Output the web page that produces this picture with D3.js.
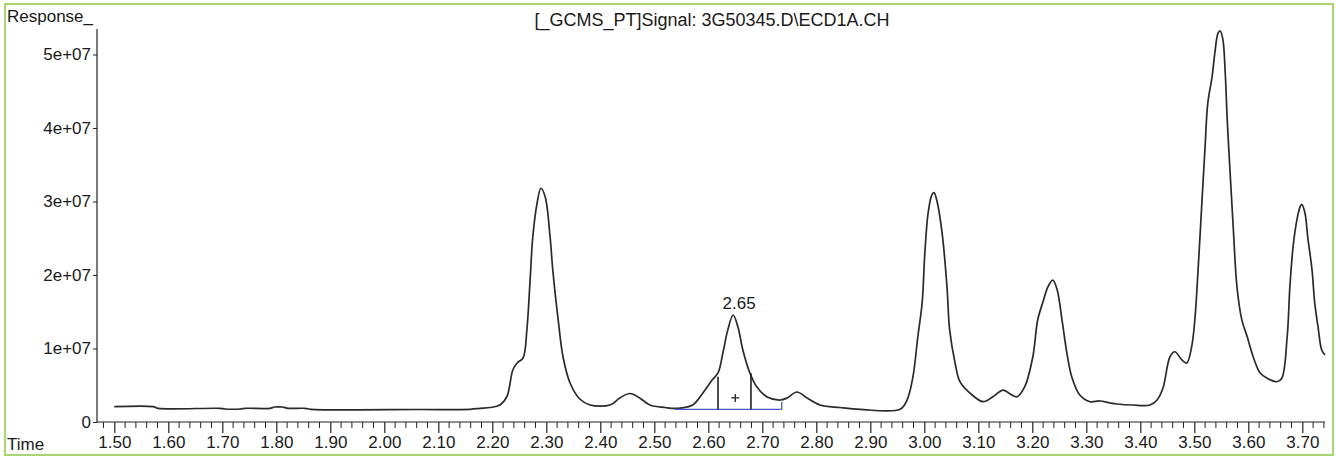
<!DOCTYPE html>
<html>
<head>
<meta charset="utf-8">
<script src="https://cdn.jsdelivr.net/npm/d3@7"></script>
<style>
  html, body { margin: 0; padding: 0; background: #fff; }
  svg { display: block; }
  text { font-family: "Liberation Sans", Arial, sans-serif; fill: #1a1a1a; }
</style>
</head>
<body>
<svg id="chart" width="1336" height="457"></svg>
<script>
// ECD1A signal trace: retention time (min) and detector response
const times = [
  1.500, 1.572, 1.581, 1.696, 1.705, 1.733, 1.742, 1.788, 1.797, 1.811, 1.822, 1.853, 1.864,
  2.066, 2.159, 2.177, 2.196, 2.214, 2.227, 2.238, 2.246, 2.257, 2.264, 2.270, 2.275, 2.283,
  2.290, 2.298, 2.307, 2.312, 2.322, 2.331, 2.344, 2.362, 2.381, 2.418, 2.436, 2.455, 2.473,
  2.492, 2.520, 2.542, 2.571, 2.590, 2.607, 2.618, 2.627, 2.636, 2.646, 2.655, 2.664, 2.677,
  2.690, 2.709, 2.733, 2.746, 2.764, 2.783, 2.807, 2.844, 2.881, 2.955, 2.968, 2.979, 2.988,
  2.996, 3.001, 3.007, 3.014, 3.018, 3.023, 3.033, 3.042, 3.047, 3.057, 3.066, 3.085, 3.109,
  3.127, 3.146, 3.162, 3.172, 3.186, 3.201, 3.210, 3.220, 3.229, 3.238, 3.246, 3.255, 3.264,
  3.273, 3.288, 3.307, 3.325, 3.344, 3.357, 3.386, 3.418, 3.431, 3.442, 3.455, 3.464, 3.477,
  3.486, 3.495, 3.501, 3.507, 3.514, 3.520, 3.525, 3.533, 3.538, 3.544, 3.548, 3.553, 3.557,
  3.561, 3.566, 3.572, 3.579, 3.588, 3.598, 3.609, 3.622, 3.635, 3.653, 3.662, 3.672, 3.677,
  3.683, 3.690, 3.696, 3.699, 3.705, 3.710, 3.718, 3.723, 3.729, 3.736, 3.742
];
const response = [
  2.08e6, 2.08e6, 1.86e6, 1.86e6, 1.77e6, 1.77e6, 1.86e6, 1.86e6, 2.04e6, 2.04e6, 1.86e6, 1.86e6, 1.73e6,
  1.70e6, 1.73e6, 1.86e6, 1.97e6, 2.31e6, 3.44e6, 7.07e6, 8.03e6, 8.71e6, 12.5e6, 19.3e6, 25.2e6, 29.8e6,
  31.8e6, 30.6e6, 25.2e6, 20.7e6, 13.9e6, 8.84e6, 5.31e6, 3.13e6, 2.31e6, 2.31e6, 3.27e6, 3.88e6, 3.27e6,
  2.31e6, 1.97e6, 1.86e6, 2.31e6, 3.95e6, 5.71e6, 6.67e6, 9.39e6, 12.5e6, 14.56e6, 12.9e6, 9.80e6, 6.67e6,
  4.76e6, 3.40e6, 2.99e6, 3.27e6, 4.08e6, 3.27e6, 2.31e6, 1.97e6, 1.73e6, 1.73e6, 2.99e6, 6.16e6, 11.6e6,
  16.2e6, 23.0e6, 28.4e6, 30.9e6, 31.2e6, 30.2e6, 25.7e6, 18.4e6, 12.5e6, 8.03e6, 5.49e6, 3.90e6, 2.76e6,
  3.44e6, 4.35e6, 3.67e6, 3.44e6, 4.80e6, 8.88e6, 13.9e6, 16.4e6, 18.4e6, 19.3e6, 18.0e6, 13.9e6, 9.39e6,
  6.16e6, 3.67e6, 2.76e6, 2.86e6, 2.59e6, 2.45e6, 2.31e6, 2.31e6, 2.99e6, 4.63e6, 8.88e6, 9.56e6, 8.44e6,
  8.03e6, 10.2e6, 13.9e6, 20.7e6, 29.8e6, 37.5e6, 43.4e6, 47.0e6, 50.2e6, 52.9e6, 53.2e6, 52.0e6, 47.9e6,
  41.1e6, 34.3e6, 26.6e6, 18.4e6, 13.9e6, 11.6e6, 8.88e6, 6.67e6, 5.95e6, 5.48e6, 5.95e6, 11.6e6, 18.4e6,
  23.9e6, 27.5e6, 29.3e6, 29.6e6, 28.4e6, 25.2e6, 20.7e6, 16.2e6, 13.0e6, 9.80e6, 9.12e6
];

// Axis ticks and labels
const xTickValues = [1.5, 1.6, 1.7, 1.8, 1.9, 2.0, 2.1, 2.2, 2.3, 2.4, 2.5, 2.6, 2.7, 2.8, 2.9, 3.0, 3.1, 3.2, 3.3, 3.4, 3.5, 3.6, 3.7];
const xTickLabels = ["1.50","1.60","1.70","1.80","1.90","2.00","2.10","2.20","2.30","2.40","2.50","2.60","2.70","2.80","2.90","3.00","3.10","3.20","3.30","3.40","3.50","3.60","3.70"];
const yTickValues = [0, 1e7, 2e7, 3e7, 4e7, 5e7];
const yTickLabels = ["0", "1e+07", "2e+07", "3e+07", "4e+07", "5e+07"];

// Integrated peak at 2.65: baseline, split markers and centre mark
const peakLabel = "2.65";
const peakTime = 2.646;
const peakValue = 14.56e6;
const integBaseTimes = [2.538, 2.736];
const integBaseValues = [1.73e6, 1.73e6];
const integEndTop = 2.76e6;
const splitTimes = [2.618, 2.679];
const splitTops = [6.16e6, 6.63e6];
const centreMark = [2.650, 3.27e6];

const title = "[_GCMS_PT]Signal: 3G50345.D\\ECD1A.CH";

const svg = d3.select("#chart");

// Outer frame
svg.append("rect")
  .attr("x", 5).attr("y", 4).attr("width", 1328).attr("height", 451)
  .attr("fill", "none").attr("stroke", "#a9d672").attr("stroke-width", 2);

const x = d3.scaleLinear().domain([1.5, 3.7]).range([114.3, 1302.3]);
const y = d3.scaleLinear().domain([0, 5e7]).range([422, 54.5]);

const axisColor = "#222";

// Y axis
const yAxisX = 97;
svg.append("line")
  .attr("x1", yAxisX).attr("x2", yAxisX)
  .attr("y1", 29).attr("y2", y(0))
  .attr("stroke", axisColor).attr("stroke-width", 1.2);

const yAxis = d3.axisLeft(y)
  .tickValues(yTickValues)
  .tickFormat((d, i) => yTickLabels[i])
  .tickSize(4)
  .tickPadding(2);
const gy = svg.append("g").attr("transform", `translate(${yAxisX},0)`).call(yAxis);
gy.select(".domain").remove();
gy.selectAll("line").attr("stroke", axisColor);
gy.selectAll("text")
  .style("font-family", '"Liberation Sans", Arial, sans-serif')
  .style("font-size", "17px")
  .attr("fill", "#1a1a1a");

// X axis
const xAxisY = y(0);
svg.append("line")
  .attr("x1", yAxisX).attr("x2", 1325)
  .attr("y1", xAxisY).attr("y2", xAxisY)
  .attr("stroke", axisColor).attr("stroke-width", 1.2);

const minorTicks = d3.range(1.48, 3.745, 0.02).filter(t => Math.abs(Math.round(t * 10) - t * 10) > 1e-6);
svg.append("g").selectAll("line").data(minorTicks).join("line")
  .attr("x1", d => x(d)).attr("x2", d => x(d))
  .attr("y1", xAxisY).attr("y2", xAxisY + 6)
  .attr("stroke", axisColor).attr("stroke-width", 1);

const xAxis = d3.axisBottom(x)
  .tickValues(xTickValues)
  .tickFormat((d, i) => xTickLabels[i])
  .tickSize(11)
  .tickPadding(3);
const gx = svg.append("g").attr("transform", `translate(0,${xAxisY})`).call(xAxis);
gx.select(".domain").remove();
gx.selectAll("line").attr("stroke", axisColor).attr("stroke-width", 1.2);
gx.selectAll("text")
  .style("font-family", '"Liberation Sans", Arial, sans-serif')
  .style("font-size", "17px")
  .attr("fill", "#1a1a1a");

// Axis names and title
svg.append("text").attr("x", 7).attr("y", 22)
  .style("font-size", "17px").text("Response_");
svg.append("text").attr("x", 7).attr("y", 450)
  .style("font-size", "17px").text("Time");
svg.append("text").attr("x", 712).attr("y", 26)
  .attr("text-anchor", "middle")
  .style("font-size", "18px").text(title);

// Signal trace
const trace = times.map((t, i) => [t, response[i]]);
const line = d3.line()
  .x(d => x(d[0]))
  .y(d => y(d[1]))
  .curve(d3.curveCatmullRom.alpha(0.5));
svg.append("path")
  .datum(trace)
  .attr("d", line)
  .attr("fill", "none")
  .attr("stroke", "#2a2a2a")
  .attr("stroke-width", 1.7)
  .attr("stroke-linejoin", "round");

// Integration baseline (blue) with end drop line
svg.append("line")
  .attr("x1", x(integBaseTimes[0])).attr("x2", x(integBaseTimes[1]))
  .attr("y1", y(integBaseValues[0])).attr("y2", y(integBaseValues[1]))
  .attr("stroke", "#4b55c8").attr("stroke-width", 1.3);
svg.append("line")
  .attr("x1", x(integBaseTimes[1])).attr("x2", x(integBaseTimes[1]))
  .attr("y1", y(integBaseValues[1])).attr("y2", y(integEndTop))
  .attr("stroke", "#4b55c8").attr("stroke-width", 1.3);

// Peak split markers
svg.append("g").selectAll("line").data(splitTimes).join("line")
  .attr("x1", d => x(d)).attr("x2", d => x(d))
  .attr("y1", y(integBaseValues[0]))
  .attr("y2", (d, i) => y(splitTops[i]))
  .attr("stroke", "#222").attr("stroke-width", 1.6);

// Centre mark
const cx = x(centreMark[0]), cy = y(centreMark[1]);
svg.append("path")
  .attr("d", `M${cx - 4},${cy}H${cx + 4}M${cx},${cy - 4}V${cy + 4}`)
  .attr("stroke", "#222").attr("stroke-width", 1.3);

// Retention time label
svg.append("text")
  .attr("x", x(peakTime) + 6).attr("y", y(peakValue) - 6)
  .attr("text-anchor", "middle")
  .style("font-size", "17px")
  .text(peakLabel);
</script>
</body>
</html>
